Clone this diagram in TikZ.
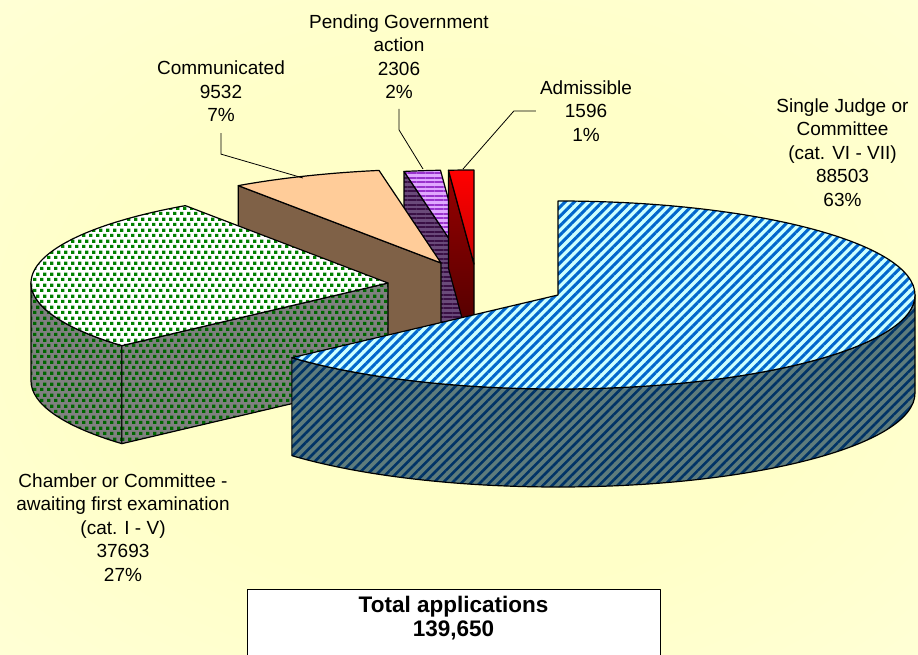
\documentclass[tikz,border=0pt]{standalone}
\usepackage{fontspec}
\setmainfont{Liberation Sans}
\usetikzlibrary{patterns.meta,calc}

\definecolor{bgin}{HTML}{FFFFC8}
\definecolor{bgout}{HTML}{FFFFF6}
\definecolor{cSingTop}{HTML}{CCFFFF}
\definecolor{cSingLine}{HTML}{0066CC}
\definecolor{cSingSide}{HTML}{5E7C7C}
\definecolor{cSingDark}{HTML}{003366}
\definecolor{cChamDot}{HTML}{008000}
\definecolor{cChamSide}{HTML}{808080}
\definecolor{cChamDark}{HTML}{006600}
\definecolor{cCommTop}{HTML}{FFCC99}
\definecolor{cCommSide}{HTML}{7F6147}
\definecolor{cPendTop}{HTML}{E0A8FF}
\definecolor{cPendLine}{HTML}{9933CC}
\definecolor{cPendSide}{HTML}{6A4A7A}
\definecolor{cPendDark}{HTML}{3A1045}
\definecolor{cAdmLow}{HTML}{CC0000}
\definecolor{cAdmSide}{HTML}{990000}
\definecolor{cAdmDark}{HTML}{440000}

\pgfdeclareradialshading{bgglow}{\pgfpoint{0bp}{0bp}}{color(0bp)=(bgin); color(20bp)=(bgin); color(75bp)=(bgout)}

% staggered small squares
\tikzdeclarepattern{
  name=chamdots,
  type=uncolored,
  bottom left={(0pt,0pt)},
  top right={(6.6pt,11pt)},
  tile size={(6.6pt,11pt)},
  code={
    \fill (0.1pt,0.1pt) rectangle (3.5pt,3.5pt);
    \fill (3.4pt,5.6pt) rectangle (6.8pt,9pt);
  }
}

\def\rx{357}
\def\ry{94}
\def\dep{98}

\begin{document}
\begin{tikzpicture}[x=1pt,y=1pt,line join=round,
        slice/.style={draw=black,line width=1.2pt},
        singtop/.style={slice,preaction={fill=cSingTop},
            pattern={Lines[angle=45,distance=6.6pt,line width=3pt]},pattern color=cSingLine},
        singside/.style={slice,preaction={fill=cSingSide},
            pattern={Lines[angle=45,distance=6.6pt,line width=2.6pt]},pattern color=cSingDark},
        chamtop/.style={slice,preaction={fill=white},pattern=chamdots,pattern color=cChamDot},
        chamside/.style={slice,preaction={fill=cChamSide},pattern=chamdots,pattern color=cChamDark},
        commtop/.style={slice,fill=cCommTop},
        commside/.style={slice,fill=cCommSide},
        pendtop/.style={slice,preaction={fill=cPendTop},
            pattern={Lines[angle=0,distance=4.5pt,line width=2pt]},pattern color=cPendLine},
        pendside/.style={slice,preaction={fill=cPendSide},
            pattern={Lines[angle=0,distance=4.5pt,line width=2pt]},pattern color=cPendDark},
        admtop/.style={slice,top color=red,bottom color=cAdmLow},
        admside/.style={slice,top color=cAdmSide,bottom color=cAdmDark},
        lbl/.style={align=center,inner sep=0pt,font=\fontsize{19}{23.5}\selectfont},
        leader/.style={draw=black,line width=0.8pt},
        totalbox/.style={draw=black,line width=0.8pt,fill=white,anchor=north,align=center,
            minimum width=413pt,inner ysep=6.5pt,text depth=40pt,
            font=\bfseries\fontsize{22.5}{24}\selectfont}]

\useasboundingbox (0,0) rectangle (918,-655);
\shade[shading=bgglow] (0,0) rectangle (918,-655);

% centres of the exploded slices
\coordinate (B) at (558,-295);
\coordinate (G) at (388,-283);
\coordinate (C) at (441,-263);
\coordinate (P) at (466,-264);
\coordinate (A) at (474,-264);

% pending government action
\draw[pendside] (P) -- ([shift={(P)}]100:{\rx} and {\ry}) -- ++(0,-\dep) -- ($(P)+(0,-\dep)$) -- cycle;
\draw[pendtop] (P) -- ([shift={(P)}]100:{\rx} and {\ry})
    arc[start angle=100,end angle=94.1,x radius=\rx,y radius=\ry] -- cycle;

% admissible
\draw[admside] (A) -- ([shift={(A)}]94.1:{\rx} and {\ry}) -- ++(0,-\dep) -- ($(A)+(0,-\dep)$) -- cycle;
\draw[admtop] (A) -- ([shift={(A)}]94.1:{\rx} and {\ry})
    arc[start angle=94.1,end angle=90,x radius=\rx,y radius=\ry] -- cycle;

% communicated
\draw[commside] (C) -- ([shift={(C)}]124.6:{\rx} and {\ry}) -- ++(0,-\dep) -- ($(C)+(0,-\dep)$) -- cycle;
\draw[commtop] (C) -- ([shift={(C)}]124.6:{\rx} and {\ry})
    arc[start angle=124.6,end angle=100,x radius=\rx,y radius=\ry] -- cycle;

% chamber or committee
\draw[chamside] ([shift={(G)}]180:{\rx} and {\ry})
    arc[start angle=180,end angle=221.8,x radius=\rx,y radius=\ry] -- ++(0,-\dep)
    arc[start angle=221.8,end angle=180,x radius=\rx,y radius=\ry] -- cycle;
\draw[chamside] (G) -- ([shift={(G)}]221.8:{\rx} and {\ry}) -- ++(0,-\dep) -- ($(G)+(0,-\dep)$) -- cycle;
\draw[chamtop] (G) -- ([shift={(G)}]124.6:{\rx} and {\ry})
    arc[start angle=124.6,end angle=221.8,x radius=\rx,y radius=\ry] -- cycle;

% single judge or committee
\draw[singside] ([shift={(B)}]-138.2:{\rx} and {\ry})
    arc[start angle=-138.2,end angle=0,x radius=\rx,y radius=\ry] -- ++(0,-\dep)
    arc[start angle=0,end angle=-138.2,x radius=\rx,y radius=\ry] -- cycle;
\draw[singtop] (B) -- ([shift={(B)}]90:{\rx} and {\ry})
    arc[start angle=90,end angle=-138.2,x radius=\rx,y radius=\ry] -- cycle;

% labels
\node[lbl] (sing) at (842.5,-152.5) {Single Judge or\\Committee\\(cat. VI - VII)\\88503\\63\%};
\node[lbl] (cham) at (123,-527.5) {Chamber or Committee -\\awaiting first examination\\(cat. I - V)\\37693\\27\%};
\node[lbl] (comm) at (221,-91.5) {Communicated\\9532\\7\%};
\node[lbl] (pend) at (399,-56.5) {Pending Government\\action\\2306\\2\%};
\node[lbl] (adm) at (586,-111) {Admissible\\1596\\1\%};

\coordinate (commtip) at (303,-178);
\coordinate (pendtip) at (423,-169);
\coordinate (admtip) at (463,-169);
\draw[leader,shorten <=11pt] (comm.south) -- ++(0,-32) -- (commtip);
\draw[leader,shorten <=10pt] (pend.south) -- ++(0,-31) -- (pendtip);
\draw[leader,shorten <=4pt] (adm.west) -- ++(-26,0) -- (admtip);

\node[totalbox] (total) at (453.5,-589) {Total applications\\139,650};
\end{tikzpicture}
\end{document}
